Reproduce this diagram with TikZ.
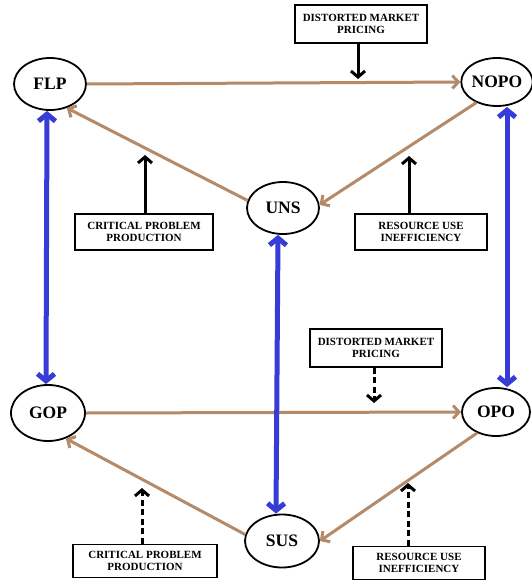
\documentclass[tikz,border=0pt]{standalone}
\usepackage{fontspec}
\setmainfont{Liberation Serif}
\usetikzlibrary{shapes.geometric,arrows.meta}
\definecolor{brownline}{RGB}{180,138,105}
\definecolor{blueline}{RGB}{55,60,215}
\begin{document}
\begin{tikzpicture}[x=1pt,y=-1pt,
 st/.style={ellipse,draw,line width=1.8pt,inner sep=0pt,font=\fontsize{17.5}{17.5}\selectfont\bfseries},
 box/.style={draw,line width=1.6pt,inner sep=0pt,align=center,font=\fontsize{11}{12}\selectfont\bfseries},
 brn/.style={draw=brownline,line width=3pt,-{Straight Barb[length=6pt,width=13pt]}},
 blu/.style={draw=blueline,line width=5pt,{Straight Barb[length=7pt,width=17pt]}-{Straight Barb[length=7pt,width=17pt]}},
 blk/.style={line width=3pt,-{Straight Barb[length=6pt,width=14pt]}},
 blkd/.style={blk,dash pattern=on 6pt off 3.5pt}]
\path[use as bounding box,fill=white] (0,0) rectangle (531,588);

% states
\node[st,minimum width=72pt,minimum height=52pt] (FLP) at (50,84) {FLP};
\node[st,minimum width=68pt,minimum height=48pt] (NOPO) at (497,82) {NOPO};
\node[st,minimum width=72pt,minimum height=52pt] (UNS) at (283,208) {UNS};
\node[st,minimum width=74pt,minimum height=56pt] (GOP) at (48,413) {GOP};
\node[st,minimum width=68pt,minimum height=48pt] (OPO) at (496,412) {OPO};
\node[st,minimum width=74pt,minimum height=53pt] (SUS) at (282,541) {SUS};

% boxes
\node[box,minimum width=132pt,minimum height=38pt] (b1) at (361,24) {DISTORTED MARKET\\PRICING};
\node[box,minimum width=138pt,minimum height=36pt] (b2) at (144,232) {CRITICAL PROBLEM\\PRODUCTION};
\node[box,minimum width=132pt,minimum height=36pt] (b3) at (421,232) {RESOURCE USE\\INEFFICIENCY};
\node[box,minimum width=132pt,minimum height=38pt] (b4) at (376,348) {DISTORTED MARKET\\PRICING};
\node[box,minimum width=144pt,minimum height=33pt] (b5) at (145,561) {CRITICAL PROBLEM\\PRODUCTION};
\node[box,minimum width=132pt,minimum height=33pt] (b6) at (419,563) {RESOURCE USE\\INEFFICIENCY};

% free ends of the black arrows
\coordinate (t1) at (358,79);
\coordinate (t2) at (145,155);
\coordinate (t3) at (409,156);
\coordinate (t4) at (374,403);
\coordinate (t5) at (142,488);
\coordinate (t6) at (408,483);

% brown cycle arrows
\draw[brn] (FLP.east) -- (NOPO.west);
\draw[brn] (NOPO.225) -- (UNS.5);
\draw[brn] (UNS.168) -- (FLP.-55);
\draw[brn] (GOP.east) -- (OPO.west);
\draw[brn] (OPO.228) -- (SUS.east);
\draw[brn] (SUS.170) -- (GOP.-55);

% blue double arrows
\draw[blu] ([xshift=-3pt]FLP.south) -- ([xshift=-2pt]GOP.north);
\draw[blu] ([xshift=10pt]NOPO.south) -- ([xshift=11pt]OPO.north);
\draw[blu] ([xshift=-5pt]UNS.south) -- ([xshift=-6pt]SUS.north);

% black arrows
\draw[blk] (b1.south -| t1) -- (t1);
\draw[blk] (b2.north -| t2) -- (t2);
\draw[blk] (b3.north -| t3) -- (t3);
\draw[blkd] (b4.south -| t4) -- (t4);
\draw[blkd] (b5.north -| t5) -- (t5);
\draw[blkd] (b6.north -| t6) -- (t6);
\end{tikzpicture}
\end{document}
